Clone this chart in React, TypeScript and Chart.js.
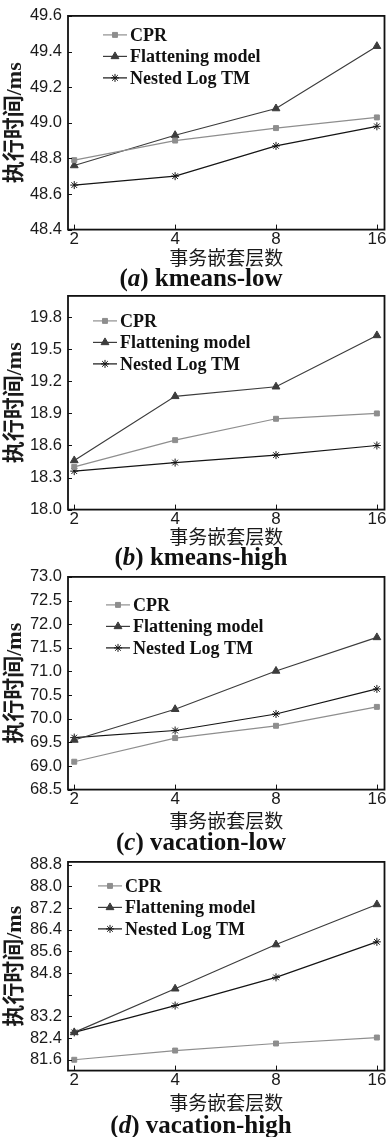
import React, { useEffect, useRef } from 'react';
import { Chart, registerables } from 'chart.js';
import { drawPoint } from 'chart.js/helpers';

Chart.register(...registerables);

// ---------- data ----------
const xLevels = [2, 4, 8, 16];
const seriesNames = ['CPR', 'Flattening model', 'Nested Log TM'];
const yAxisTitle = '执行时间/ms';
const xAxisTitle = '事务嵌套层数';

const kmeansLowCPR = [48.79, 48.9, 48.97, 49.03];
const kmeansLowFlat = [48.76, 48.93, 49.08, 49.43];
const kmeansLowNested = [48.65, 48.7, 48.87, 48.98];
const kmeansLowTicks = [48.4, 48.6, 48.8, 49.0, 49.2, 49.4, 49.6];
const kmeansLowTickLabels = ['48.4', '48.6', '48.8', '49.0', '49.2', '49.4', '49.6'];

const kmeansHighCPR = [18.4, 18.65, 18.85, 18.9];
const kmeansHighFlat = [18.46, 19.06, 19.15, 19.63];
const kmeansHighNested = [18.36, 18.44, 18.51, 18.6];
const kmeansHighTicks = [18.0, 18.3, 18.6, 18.9, 19.2, 19.5, 19.8];
const kmeansHighTickLabels = ['18.0', '18.3', '18.6', '18.9', '19.2', '19.5', '19.8'];

const vacLowCPR = [69.09, 69.59, 69.85, 70.25];
const vacLowFlat = [69.55, 70.2, 71.01, 71.72];
const vacLowNested = [69.6, 69.75, 70.1, 70.63];
const vacLowTicks = [68.5, 69.0, 69.5, 70.0, 70.5, 71.0, 71.5, 72.0, 72.5, 73.0];
const vacLowTickLabels = ['68.5', '69.0', '69.5', '70.0', '70.5', '71.0', '71.5', '72.0', '72.5', '73.0'];

const vacHighCPR = [81.6, 81.94, 82.2, 82.42];
const vacHighFlat = [82.61, 84.22, 85.85, 87.33];
const vacHighNested = [82.61, 83.6, 84.64, 85.95];
const vacHighTicks = [81.6, 82.4, 83.2, 84.0, 84.8, 85.6, 86.4, 87.2, 88.0, 88.8];
const vacHighTickLabels = ['81.6', '82.4', '83.2', '', '84.8', '85.6', '86.4', '87.2', '88.0', '88.8'];

const captionLetters = ['a', 'b', 'c', 'd'];
const captionNames = ['kmeans-low', 'kmeans-high', 'vacation-low', 'vacation-high'];

// ---------- layout / style ----------
const PAD_TOP = 14;
const Y_AXIS_W = 68;
const PAD_RIGHT = 3;
const X_MIN = 1.916;
const X_MAX = 16.86;

type Panel = {
  cpr: number[]; flat: number[]; nested: number[];
  ticks: number[]; labels: string[]; yMin: number; yMax: number;
  plotTop: number; plotH: number; titleOff: number; captionY: number;
  legLeft: number; legTop: number;
};

const panels: Panel[] = [
  { cpr: kmeansLowCPR, flat: kmeansLowFlat, nested: kmeansLowNested, ticks: kmeansLowTicks, labels: kmeansLowTickLabels,
    yMin: 48.4, yMax: 49.6, plotTop: 14, plotH: 216, titleOff: 28, captionY: 278, legLeft: 35, legTop: 19 },
  { cpr: kmeansHighCPR, flat: kmeansHighFlat, nested: kmeansHighNested, ticks: kmeansHighTicks, labels: kmeansHighTickLabels,
    yMin: 18.0, yMax: 20.0, plotTop: 294, plotH: 216, titleOff: 27, captionY: 557, legLeft: 25, legTop: 25 },
  { cpr: vacLowCPR, flat: vacLowFlat, nested: vacLowNested, ticks: vacLowTicks, labels: vacLowTickLabels,
    yMin: 68.5, yMax: 73.0, plotTop: 575, plotH: 215, titleOff: 31, captionY: 842, legLeft: 38, legTop: 28 },
  { cpr: vacHighCPR, flat: vacHighFlat, nested: vacHighNested, ticks: vacHighTicks, labels: vacHighTickLabels,
    yMin: 81.2, yMax: 88.9, plotTop: 859.5, plotH: 211, titleOff: 32, captionY: 1125, legLeft: 30, legTop: 24 },
];

const COLORS = ['#8e8e8e', '#3c3c3c', '#141414'];
const STYLES = ['rect', 'triangle', 'star'];
const RADII = [3.5, 4.5, 4];

const framePlugin = {
  id: 'frame',
  afterDatasetsDraw(chart: any) {
    const { ctx, chartArea: a, scales } = chart;
    ctx.save();
    ctx.strokeStyle = '#111';
    ctx.lineWidth = 1;
    ctx.beginPath();
    scales.y.ticks.forEach((t: any) => {
      const py = Math.round(scales.y.getPixelForValue(t.value)) + 0.5;
      ctx.moveTo(a.left, py);
      ctx.lineTo(a.left + 4, py);
    });
    scales.x.ticks.forEach((t: any) => {
      const px = Math.round(scales.x.getPixelForValue(t.value)) + 0.5;
      ctx.moveTo(px, a.bottom);
      ctx.lineTo(px, a.bottom - 5);
    });
    ctx.stroke();
    ctx.lineWidth = 1.8;
    ctx.strokeRect(a.left, a.top, a.right - a.left, a.bottom - a.top);
    ctx.restore();
  },
};

const legendPlugin = {
  id: 'insideLegend',
  afterDraw(chart: any, _args: any, opts: any) {
    const { ctx, chartArea: a } = chart;
    ctx.save();
    chart.data.datasets.forEach((ds: any, i: number) => {
      const y = a.top + opts.top + i * opts.gap;
      const x0 = a.left + opts.left;
      ctx.strokeStyle = ds.borderColor;
      ctx.lineWidth = 1.2;
      ctx.beginPath();
      ctx.moveTo(x0, y);
      ctx.lineTo(x0 + opts.len, y);
      ctx.stroke();
      ctx.fillStyle = ds.pointBackgroundColor;
      ctx.strokeStyle = ds.pointBorderColor;
      ctx.lineWidth = 1;
      drawPoint(ctx, { pointStyle: ds.pointStyle, radius: ds.pointRadius, borderWidth: 1, rotation: 0 } as any, x0 + opts.len / 2, y);
      ctx.fillStyle = '#111';
      ctx.font = 'bold 18px "Liberation Serif"';
      ctx.textBaseline = 'middle';
      ctx.textAlign = 'left';
      ctx.fillText(ds.label, x0 + opts.len + opts.textGap, y + 1);
    });
    ctx.restore();
  },
};

function PanelChart({ p }: { p: Panel }) {
  const ref = useRef<HTMLCanvasElement>(null);
  const xh = p.titleOff + 11.4;
  const h = PAD_TOP + p.plotH + xh;
  useEffect(() => {
    const series = [p.cpr, p.flat, p.nested];
    const chart = new Chart(ref.current as HTMLCanvasElement, {
      type: 'line',
      data: {
        datasets: series.map((vals, k) => ({
          label: seriesNames[k],
          data: xLevels.map((x, i) => ({ x, y: vals[i] })),
          borderColor: COLORS[k],
          backgroundColor: COLORS[k],
          pointBackgroundColor: COLORS[k],
          pointBorderColor: COLORS[k],
          pointStyle: STYLES[k] as any,
          pointRadius: RADII[k],
          pointBorderWidth: 1,
          borderWidth: 1.2,
          tension: 0,
        })),
      },
      options: {
        animation: false,
        responsive: false,
        events: [],
        layout: { padding: { top: PAD_TOP, right: PAD_RIGHT, left: 0, bottom: 0 } },
        plugins: {
          legend: { display: false },
          tooltip: { enabled: false },
          insideLegend: { left: p.legLeft, top: p.legTop, gap: 21.5, len: 24, textGap: 3 },
        } as any,
        scales: {
          x: {
            type: 'logarithmic',
            min: X_MIN,
            max: X_MAX,
            afterBuildTicks: (s: any) => { s.ticks = xLevels.map((v) => ({ value: v })); },
            afterFit: (s: any) => { s.height = xh; },
            grid: { display: false, drawTicks: false },
            border: { display: false },
            ticks: {
              autoSkip: false, maxRotation: 0, padding: 0,
              color: '#1a1a1a',
              font: { family: '"Liberation Sans"', size: 17 },
              callback: (v: any) => String(v),
            },
            title: {
              display: true, text: xAxisTitle, color: '#1a1a1a',
              font: { family: '"Noto Sans CJK SC"', size: 19 },
              padding: { top: 0, bottom: 0 },
            },
          },
          y: {
            type: 'linear',
            min: p.yMin,
            max: p.yMax,
            afterBuildTicks: (s: any) => { s.ticks = p.ticks.map((v) => ({ value: v })); },
            afterFit: (s: any) => { s.width = Y_AXIS_W; },
            grid: { display: false, drawTicks: false },
            border: { display: false },
            ticks: {
              padding: 6,
              color: '#1a1a1a',
              font: { family: '"Liberation Sans"', size: 16.5 },
              callback: (_v: any, i: number) => p.labels[i],
            },
            title: {
              display: true, text: yAxisTitle, color: '#1a1a1a',
              font: { family: '"Liberation Serif", "Noto Sans CJK SC"', size: 22, weight: 'bold' },
              padding: { top: 2, bottom: 0 },
            },
          },
        },
      } as any,
      plugins: [framePlugin, legendPlugin],
    });
    return () => chart.destroy();
  }, []);
  return (
    <canvas
      ref={ref}
      width={390}
      height={Math.round(h)}
      style={{ position: 'absolute', left: 0, top: p.plotTop - PAD_TOP, width: 390, height: Math.round(h) }}
    />
  );
}

export default function App() {
  return (
    <div style={{ position: 'absolute', left: 0, top: 0, width: 390, height: 1137, background: '#fff', overflow: 'hidden' }}>
      {panels.map((p, i) => (
        <React.Fragment key={i}>
          <PanelChart p={p} />
          <div
            style={{
              position: 'absolute', left: 6, width: 390, top: p.captionY - 14, height: 28, lineHeight: '28px',
              textAlign: 'center', fontFamily: '"Liberation Serif", serif', fontWeight: 'bold', fontSize: 25, color: '#111',
            }}
          >
            (<i>{captionLetters[i]}</i>) {captionNames[i]}
          </div>
        </React.Fragment>
      ))}
    </div>
  );
}
